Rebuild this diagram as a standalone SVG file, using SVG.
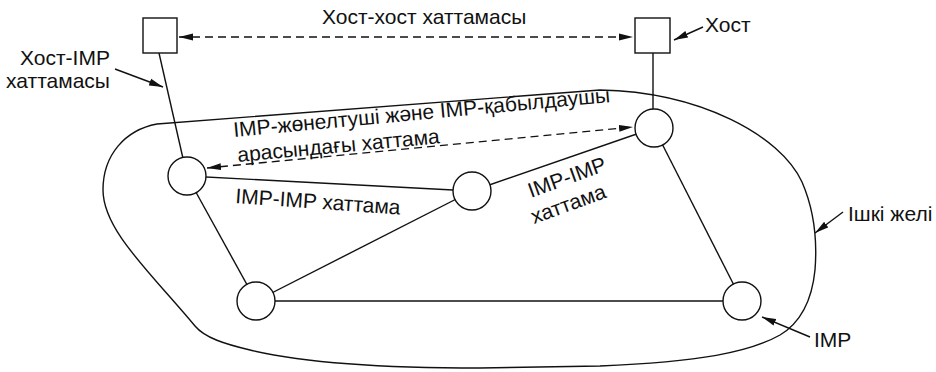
<svg xmlns="http://www.w3.org/2000/svg" width="936" height="372" viewBox="0 0 936 372">
  <defs>
    <marker id="arrow" viewBox="0 0 14 8" refX="14" refY="4" markerWidth="14" markerHeight="8" markerUnits="userSpaceOnUse" orient="auto-start-reverse">
      <path d="M0,0.5 L14,4 L0,7.5 Z" fill="#111"/>
    </marker>
  </defs>
  <style>
    .line { stroke: #111; stroke-width: 1.4; fill: none; }
    .dash { stroke: #111; stroke-width: 1.3; fill: none; stroke-dasharray: 8 5; }
    .node { stroke: #111; stroke-width: 1.4; fill: #fff; }
    .label { font-family: "Liberation Sans", Arial, sans-serif; font-size: 21px; fill: #111; }
  </style>
  <rect width="936" height="372" fill="#fff"/>

  <!-- subnet boundary -->
  <g id="subnet">
    <path class="line" d="M157,124 L600,90 C700,92 780,135 802,182 C815,212 817,245 815,270 C812,300 800,323 780,335 C750,352 700,362 600,366 L480,368 C380,368 300,362 250,350 C225,344 205,338 195,326 C150,272 103,230 103,190 C103,155 125,130 157,124 Z"/>
  </g>

  <!-- connectors -->
  <g id="connectors">
    <line class="line" x1="159" y1="53" x2="187" y2="176"/>
    <line class="line" x1="653" y1="53" x2="653" y2="128"/>
    <line class="line" x1="187" y1="176" x2="472" y2="191"/>
    <line class="line" x1="187" y1="176" x2="256" y2="301"/>
    <line class="line" x1="472" y1="191" x2="654" y2="128"/>
    <line class="line" x1="472" y1="191" x2="256" y2="301"/>
    <line class="line" x1="256" y1="301" x2="742" y2="301"/>
    <line class="line" x1="654" y1="128" x2="742" y2="301"/>
    <line class="dash" x1="179" y1="37" x2="633" y2="37" marker-start="url(#arrow)" marker-end="url(#arrow)"/>
    <line class="dash" x1="207" y1="168" x2="633" y2="127" marker-start="url(#arrow)" marker-end="url(#arrow)"/>
    <line class="line" x1="703" y1="27" x2="674" y2="40" marker-end="url(#arrow)"/>
    <line class="line" x1="115" y1="69" x2="163" y2="87" marker-end="url(#arrow)"/>
    <line class="line" x1="843" y1="212" x2="815" y2="233" marker-end="url(#arrow)"/>
    <line class="line" x1="810" y1="337" x2="762" y2="317" marker-end="url(#arrow)"/>
  </g>

  <!-- hosts -->
  <g id="host-left"><rect class="node" x="143" y="18" width="34" height="35"/></g>
  <g id="host-right"><rect class="node" x="635" y="18" width="35" height="35"/></g>

  <!-- IMPs -->
  <g id="imp-left"><circle class="node" cx="187" cy="176" r="19"/></g>
  <g id="imp-middle"><circle class="node" cx="472" cy="191" r="19"/></g>
  <g id="imp-right-top"><circle class="node" cx="654" cy="128" r="19"/></g>
  <g id="imp-bottom-left"><circle class="node" cx="256" cy="301" r="19"/></g>
  <g id="imp-bottom-right"><circle class="node" cx="742" cy="301" r="19"/></g>

  <!-- labels -->
  <g id="labels">
    <text class="label" x="322" y="24">Хост-хост хаттамасы</text>
    <text class="label" x="705" y="32">Хост</text>
    <text class="label" x="65" y="65" text-anchor="middle">Хост-IMP</text>
    <text class="label" x="58" y="88" text-anchor="middle">хаттамасы</text>
    <text class="label" transform="translate(234,137) rotate(-5.3)">IMP-жөнелтуші және IMP-қабылдаушы</text>
    <text class="label" transform="translate(238,162) rotate(-5.3)">арасындағы хаттама</text>
    <text class="label" transform="translate(235,203) rotate(4)">IMP-IMP хаттама</text>
    <text class="label" transform="translate(531,198) rotate(-20)">IMP-IMP</text>
    <text class="label" transform="translate(534,224) rotate(-20)">хаттама</text>
    <text class="label" x="848" y="221">Ішкі желі</text>
    <text class="label" x="814" y="347">IMP</text>
  </g>
</svg>
